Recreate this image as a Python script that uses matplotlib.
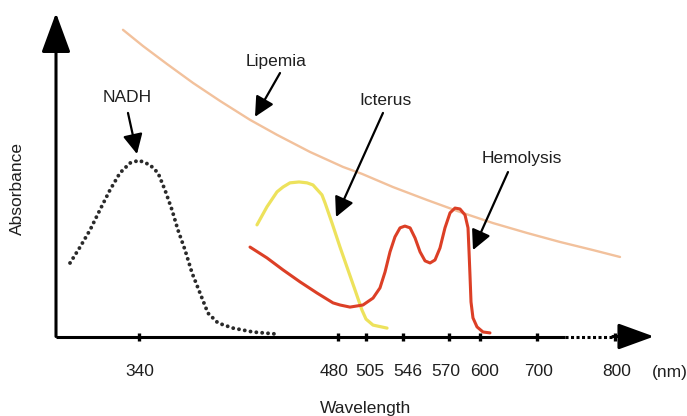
import numpy as np
import matplotlib.pyplot as plt
from matplotlib.transforms import ScaledTranslation

plt.rcParams['font.family'] = ['Liberation Sans', 'DejaVu Sans']

# x axis ticks (nm), the axis is schematic and not linear
tick_nm = [340, 480, 505, 546, 570, 600, 700, 800]
tick_labels = ['340', '480', '505', '546', '570', '600', '700', '800']

# NADH (dotted black)
nadh_nm = [291.8, 298.8, 305.8, 312.7, 319.7, 326.7, 333.7, 340.0, 347.7, 353.4,
           358.3, 363.2, 367.4, 372.4, 377.3, 382.9, 388.5, 395.6, 406.1, 420.2, 437.1]
nadh_abs = [0.245, 0.298, 0.355, 0.422, 0.488, 0.545, 0.578, 0.587, 0.572, 0.545,
            0.488, 0.422, 0.355, 0.288, 0.212, 0.145, 0.078, 0.045, 0.028, 0.015, 0.008]

# Icterus (yellow)
ict_nm = [423.0, 430.0, 437.1, 441.3, 446.2, 452.6, 458.2, 462.4, 468.7, 470.9,
          475.8, 481.8, 488.9, 495.2, 501.4, 505.0, 512.8, 528.3]
ict_abs = [0.372, 0.432, 0.482, 0.498, 0.512, 0.515, 0.512, 0.505, 0.472, 0.445,
           0.378, 0.298, 0.222, 0.155, 0.088, 0.058, 0.038, 0.028]

# Hemolysis (red)
hem_nm = [418.1, 430.0, 441.3, 453.3, 465.2, 476.5, 481.8, 490.7, 502.3, 512.8,
          520.5, 526.1, 531.6, 537.1, 542.7, 547.0, 549.7, 552.3, 554.9, 557.5,
          560.1, 562.7, 565.3, 567.9, 571.0, 575.8, 580.6, 585.5, 588.4, 589.4,
          590.3, 591.3, 593.2, 597.1, 605.3, 617.5]
hem_abs = [0.298, 0.262, 0.222, 0.182, 0.145, 0.112, 0.105, 0.098, 0.105, 0.128,
           0.162, 0.215, 0.282, 0.332, 0.362, 0.368, 0.362, 0.328, 0.282, 0.252,
           0.245, 0.255, 0.295, 0.362, 0.412, 0.428, 0.425, 0.405, 0.362, 0.282,
           0.205, 0.115, 0.062, 0.032, 0.015, 0.012]

# Lipemia (peach)
lip_nm = [328.8, 342.8, 359.7, 378.0, 397.0, 418.1, 437.1, 460.3, 484.5, 501.4,
          534.9, 558.5, 580.6, 622.8, 682.5, 729.5, 771.8, 806.4]
lip_abs = [1.022, 0.968, 0.908, 0.845, 0.785, 0.722, 0.672, 0.615, 0.565, 0.542,
           0.498, 0.455, 0.415, 0.378, 0.345, 0.315, 0.288, 0.265]

# piecewise mapping wavelength -> position along the drawn axis
axis_nm = [282, 340, 480, 505, 546, 570, 600, 700, 800, 850]
axis_pos = [0, 83, 282, 310, 347, 393, 424, 481, 559, 598]


def fwd(x):
    return np.interp(x, axis_nm, axis_pos)


def inv(p):
    return np.interp(p, axis_pos, axis_nm)


txt_color = '#1f1f1f'

fig = plt.figure(figsize=(6.87, 4.16), dpi=100)
ax = fig.add_axes([56 / 687, 79.5 / 416, 598 / 687, 323.5 / 416])
ax.set_xscale('function', functions=(fwd, inv))
ax.set_xlim(282, 850)
ax.set_ylim(0, 1.078)

ax.plot(lip_nm, lip_abs, color='#f2c19c', lw=1.7, solid_capstyle='round')
ax.plot(ict_nm, ict_abs, color='#ede25c', lw=2.3, solid_capstyle='round',
        solid_joinstyle='round')
ax.plot(hem_nm, hem_abs, color='#dc3f26', lw=2.2, solid_capstyle='round',
        solid_joinstyle='round')
ax.plot(nadh_nm, nadh_abs, color='#2a2a2a', lw=2.8, linestyle=(0, (0.01, 1.5)),
        dash_capstyle='round')

for s in ax.spines.values():
    s.set_visible(False)

# axes drawn as arrows
xt = ax.get_xaxis_transform()
ax.plot([282, 736], [0, 0], color='black', lw=2.2, transform=xt, clip_on=False,
        solid_capstyle='butt')
ax.plot([736, 797], [0, 0], color='black', lw=2.2, transform=xt, clip_on=False,
        linestyle=(0, (1, 0.8)))
ax.annotate('', xy=(1, 0), xytext=(797, 0), xycoords='axes fraction', textcoords=xt,
            arrowprops=dict(arrowstyle='-|>,head_length=2.2,head_width=0.8',
                            mutation_scale=10, lw=2.2, color='black',
                            shrinkA=0, shrinkB=0))
ax.annotate('', xy=(0, 1), xytext=(0, 0), xycoords='axes fraction',
            arrowprops=dict(arrowstyle='-|>,head_length=2.45,head_width=0.9',
                            mutation_scale=10, lw=2.2, color='black',
                            shrinkA=0, shrinkB=0))

ax.set_xticks(tick_nm)
ax.set_xticklabels(tick_labels)
ax.xaxis.set_minor_locator(plt.NullLocator())
ax.set_yticks([])
ax.tick_params(axis='x', direction='inout', length=6, width=2.4, color='black',
               pad=17, labelsize=12.5, labelcolor=txt_color)
# small nudges so the crowded labels sit as in the original
nudges = [1, -4, 4, 5, -3, 5, 2, 2]
for lab, dx in zip(ax.get_xticklabels(), nudges):
    lab.set_transform(lab.get_transform() + ScaledTranslation(dx / 100, 0, fig.dpi_scale_trans))

ax.set_xlabel('Wavelength', fontsize=12.5, color=txt_color)
ax.xaxis.set_label_coords(0.517, -0.20)
ax.set_ylabel('Absorbance', fontsize=12.5, color=txt_color)
ax.yaxis.set_label_coords(-0.052, 0.459)
fig.text(652 / 687, 1 - 373 / 416, '(nm)', fontsize=12.5, color=txt_color,
         ha='left', va='center')

# labels with pointer arrows
arrow_kw = dict(arrowstyle='-|>,head_length=0.6,head_width=0.3', mutation_scale=20,
                lw=1.6, color='black', shrinkA=0, shrinkB=0)
labels = [('NADH', (331.6, 0.795), (332.3, 0.745), (338.6, 0.608)),
          ('Lipemia', (436.4, 0.915), (439.2, 0.878), (421.6, 0.732)),
          ('Icterus', (526.1, 0.788), (523.8, 0.745), (478.6, 0.398)),
          ('Hemolysis', (673.7, 0.592), (649.1, 0.548), (593.2, 0.288))]
for name, txt, tail, tip in labels:
    ax.text(*txt, name, ha='center', va='center', fontsize=12.5, color=txt_color)
    ax.annotate('', xy=tip, xytext=tail, arrowprops=arrow_kw)

fig.savefig('out.png', dpi=100)
